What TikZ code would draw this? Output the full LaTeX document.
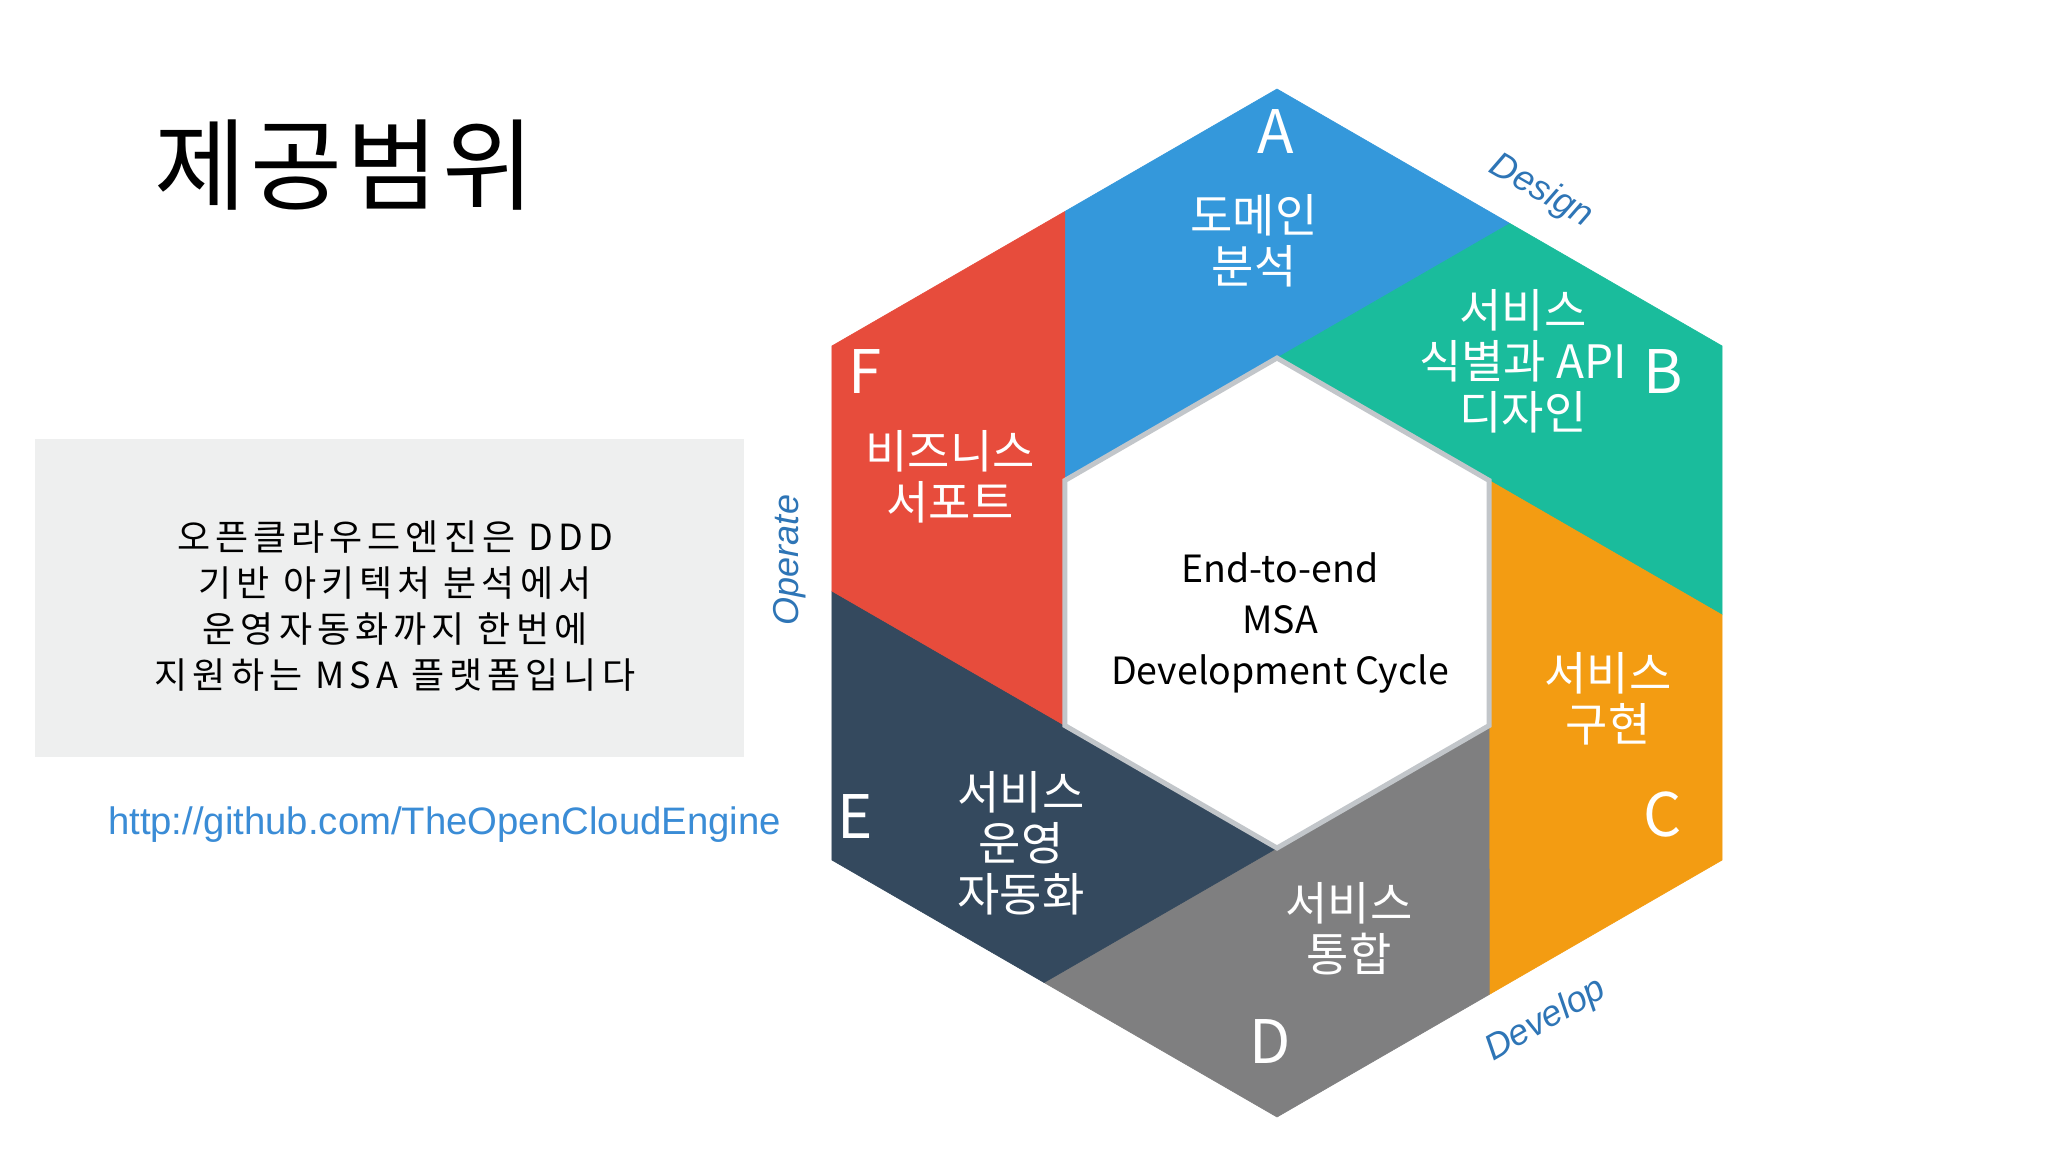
\documentclass[tikz,border=0pt]{standalone}
\usepackage{fontspec}
\setmainfont{Liberation Sans}
\newfontfamily\kr{Noto Sans CJK KR}
\newfontfamily\krsp[LetterSpace=14]{Noto Sans CJK KR}
\newfontfamily\krtitle[LetterSpace=4]{Noto Sans CJK KR}
\definecolor{cA}{HTML}{3498DB}
\definecolor{cB}{HTML}{1ABC9C}
\definecolor{cC}{HTML}{F39C12}
\definecolor{cD}{HTML}{7F7F80}
\definecolor{cE}{HTML}{34495E}
\definecolor{cF}{HTML}{E74C3C}
\definecolor{boxgray}{HTML}{EEEFEF}
\definecolor{innergray}{HTML}{C2C6CA}
\definecolor{phaseblue}{HTML}{2E75B6}
\definecolor{urlblue}{HTML}{3A8CD6}
\tikzset{
  seg/.style={fill=#1, draw=#1, line width=0.6pt, line join=round},
  seglbl/.style={text=white, font={\kr\fontsize{46}{51}\selectfont}, align=center, inner sep=0pt},
  letterlbl/.style={text=white, font={\kr\fontsize{60}{60}\selectfont}, inner sep=0pt},
  phase/.style={text=phaseblue, font={\itshape\fontsize{36}{36}\selectfont}, inner sep=0pt},
}
\begin{document}
\begin{tikzpicture}[x=1pt,y=-1pt]
\useasboundingbox (0,0) rectangle (2048,1152);
\fill[white] (0,0) rectangle (2048,1152);

% title
\node[font={\krtitle\fontsize{100}{100}\selectfont}, inner sep=0pt] (title) at (344,165) {제공범위};

% grey box with text
\fill[boxgray] (35,439) rectangle (744,757);
\node[font={\krsp\fontsize{36}{46}\selectfont}, align=center, inner sep=0pt] (desc) at (395,606)
  {오픈클라우드엔진은 DDD\\기반 아키텍처 분석에서\\운영자동화까지 한번에\\지원하는 MSA 플랫폼입니다};

% url
\node[text=urlblue, font={\fontsize{38.3}{40}\selectfont}, inner sep=0pt] (url) at (444.5,825)
  {http://github.com/TheOpenCloudEngine};

% hexagon geometry
\begin{scope}[shift={(1277,603)}]
  \coordinate (VA) at (-90:514);
  \coordinate (VB) at (-30:514);
  \coordinate (VC) at (30:514);
  \coordinate (VD) at (90:514);
  \coordinate (VE) at (150:514);
  \coordinate (VF) at (210:514);
  \coordinate (PFA) at (-118.46:445.3);
  \coordinate (PAB) at (-58.46:445.3);
  \coordinate (PBC) at (1.54:445.3);
  \coordinate (PCD) at (61.54:445.3);
  \coordinate (PDE) at (121.54:445.3);
  \coordinate (PEF) at (181.54:445.3);
  \coordinate (IA) at (-90:245);
  \coordinate (IB) at (-30:245);
  \coordinate (IC) at (30:245);
  \coordinate (ID) at (90:245);
  \coordinate (IE) at (150:245);
  \coordinate (IF) at (210:245);
\end{scope}

\filldraw[seg=cA] (VA) -- (PAB) -- (IA) -- (IF) -- (PFA) -- cycle;
\filldraw[seg=cB] (VB) -- (PBC) -- (IB) -- (IA) -- (PAB) -- cycle;
\filldraw[seg=cC] (VC) -- (PCD) -- (IC) -- (IB) -- (PBC) -- cycle;
\filldraw[seg=cD] (VD) -- (PDE) -- (ID) -- (IC) -- (PCD) -- cycle;
\filldraw[seg=cE] (VE) -- (PEF) -- (IE) -- (ID) -- (PDE) -- cycle;
\filldraw[seg=cF] (VF) -- (PFA) -- (IF) -- (IE) -- (PEF) -- cycle;
\filldraw[fill=white, draw=innergray, line width=5pt, line join=miter]
  (IA) -- (IB) -- (IC) -- (ID) -- (IE) -- (IF) -- cycle;

% segment letters
\node[letterlbl] (lA) at (1276,132) {A};
\node[letterlbl] (lB) at (1663,372) {B};
\node[letterlbl] (lC) at (1663,814) {C};
\node[letterlbl] (lD) at (1270,1041) {D};
\node[letterlbl] (lE) at (855,816) {E};
\node[letterlbl] (lF) at (865,372) {F};

% segment texts
\node[seglbl] (tA) at (1254,241) {도메인\\분석};
\node[seglbl] (tB) at (1523,361) {서비스\\식별과 API\\디자인};
\node[seglbl] (tC) at (1608,699) {서비스\\구현};
\node[seglbl] (tD) at (1349,929) {서비스\\통합};
\node[seglbl] (tE) at (1021,843) {서비스\\운영\\자동화};
\node[seglbl] (tF) at (950,477) {비즈니스\\서포트};

% centre
\node[font={\kr\fontsize{37.5}{51}\selectfont}, align=center, inner sep=0pt] (centre) at (1280,623)
  {End-to-end\\MSA\\Development Cycle};

% phases
\node[phase, rotate=-30] (design) at (1541,191) {Design};
\node[phase, rotate=30] (develop) at (1546,1020) {Develop};
\node[phase, rotate=90] (operate) at (790,560) {Operate};
\end{tikzpicture}
\end{document}
